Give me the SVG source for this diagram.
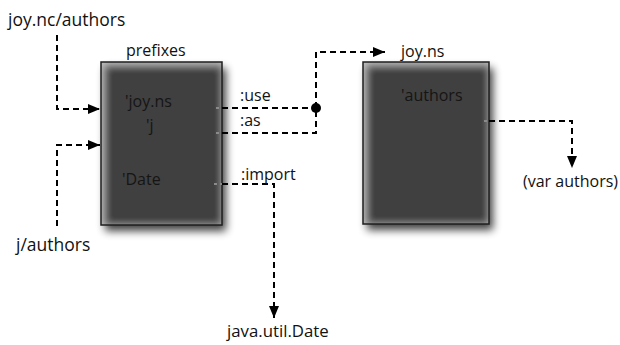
<svg xmlns="http://www.w3.org/2000/svg" width="620" height="345" viewBox="0 0 620 345">
<style>
text{font-family:"Open Sans","Liberation Sans",sans-serif;font-size:16px;fill:#111}
.lg{font-size:17.5px}
.in{fill:#151515}
.box{fill:#414141}
.edge{fill:none;stroke:#1e1e1e;stroke-width:1.5}
.c{fill:none;stroke:#000;stroke-width:2;stroke-dasharray:6 4}
.stub{fill:none;stroke:#8a8a8a;stroke-width:2;stroke-dasharray:3 3}
</style>
<defs>
<filter id="fx" x="-30%" y="-30%" width="170%" height="160%">
<feGaussianBlur in="SourceAlpha" stdDeviation="4" result="b"/>
<feOffset in="b" dx="4" dy="6" result="ob"/>
<feComponentTransfer in="ob" result="sh"><feFuncA type="linear" slope="0.75"/></feComponentTransfer>
<feFlood flood-color="#cccccc" result="f"/>
<feComposite in="f" in2="SourceAlpha" operator="out" result="outside"/>
<feGaussianBlur in="outside" stdDeviation="5" result="ob2"/>
<feOffset in="ob2" dx="2" dy="2" result="oo"/>
<feComposite in="oo" in2="SourceAlpha" operator="in" result="inner"/>
<feMerge><feMergeNode in="sh"/><feMergeNode in="SourceGraphic"/><feMergeNode in="inner"/></feMerge>
</filter>
<marker id="ah" viewBox="0 0 12 10" refX="12" refY="5" markerWidth="12" markerHeight="10" markerUnits="userSpaceOnUse" orient="auto">
<path d="M0,0 L12,5 L0,10 Z" fill="#000"/>
</marker>
</defs>

<g id="prefixes">
<rect class="box" x="101" y="62" width="121" height="163" filter="url(#fx)"/>
<rect class="edge" x="101" y="62" width="121" height="163"/>
<text x="126" y="56">prefixes</text>
<text class="in" x="125" y="107">'joy.ns</text>
<text class="in" x="146" y="131">'j</text>
<text class="in" x="122" y="185">'Date</text>
</g>

<g id="joyns">
<rect class="box" x="363" y="62" width="126" height="162" filter="url(#fx)"/>
<rect class="edge" x="363" y="62" width="126" height="162"/>
<text x="401" y="57">joy.ns</text>
<text class="in" x="401" y="101">'authors</text>
</g>

<g id="joy-nc-authors"><text class="lg" x="8" y="26">joy.nc/authors</text></g>
<g id="j-authors"><text class="lg" x="16" y="251">j/authors</text></g>
<g id="java-util-date"><text x="227" y="337" style="font-size:16.8px">java.util.Date</text></g>
<g id="var-authors"><text x="523" y="187">(var authors)</text></g>

<g id="connectors">
<path class="c" d="M57,35 V109 H100" marker-end="url(#ah)"/>
<path class="c" d="M57,226 V145 H100" marker-end="url(#ah)"/>
<path class="stub" d="M216,108 H222"/>
<path class="c" d="M222,108 H316"/>
<path class="stub" d="M216,133 H222"/>
<path class="c" d="M222,133 H316 V108"/>
<path class="c" d="M316,108 V52 H385" marker-end="url(#ah)"/>
<circle cx="316" cy="108" r="5" fill="#000"/>
<path class="stub" d="M214,184 H222"/>
<path class="c" d="M222,184 H274 V318" marker-end="url(#ah)"/>
<path class="stub" d="M484,121 H489"/>
<path class="c" d="M489,121 H572 V168" marker-end="url(#ah)"/>
<text x="240" y="101">:use</text>
<text x="240" y="126">:as</text>
<text x="241" y="180">:import</text>
</g>
</svg>
